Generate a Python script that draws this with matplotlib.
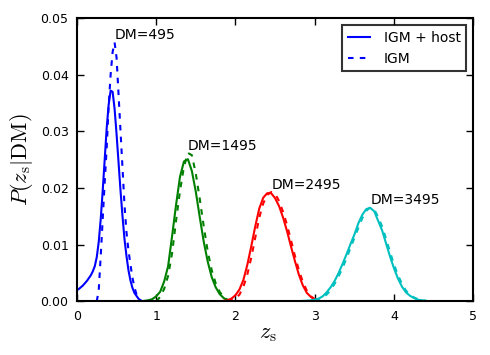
import numpy as np
import matplotlib.pyplot as plt

# P(z_s | DM), solid = IGM + host, dashed = IGM only
dms = [495, 1495, 2495, 3495]
colors = ['#0000ff', '#008000', '#ff0000', '#00bfbf']

z495_host = [0.0, 0.025, 0.05, 0.075, 0.1, 0.125, 0.15, 0.175, 0.2, 0.225, 0.25, 0.275,
             0.3, 0.325, 0.35, 0.375, 0.4, 0.425, 0.45, 0.475, 0.5, 0.525, 0.55, 0.575,
             0.6, 0.625, 0.65, 0.675, 0.7, 0.725, 0.75, 0.775, 0.8, 0.825]
p495_host = [0.0020, 0.0022, 0.0025, 0.0028, 0.0032, 0.0036, 0.0041, 0.0046, 0.0053, 0.0062,
             0.0078, 0.0105, 0.0145, 0.0195, 0.0250, 0.0305, 0.0347, 0.0372, 0.0370, 0.0340,
             0.0295, 0.0245, 0.0195, 0.0150, 0.0110, 0.0080, 0.0055, 0.0037, 0.0024, 0.0015,
             0.0010, 0.0005, 0.0002, 0.0]
z495_igm = [0.25, 0.275, 0.3, 0.325, 0.35, 0.375, 0.4, 0.425, 0.45, 0.475, 0.5, 0.525,
            0.55, 0.575, 0.6, 0.625, 0.65, 0.675, 0.7, 0.725, 0.75, 0.775, 0.8, 0.825]
p495_igm = [0.0, 0.0020, 0.0080, 0.0145, 0.0210, 0.0270, 0.0345, 0.0400, 0.0440, 0.0457,
            0.0430, 0.0365, 0.0300, 0.0235, 0.0170, 0.0122, 0.0090, 0.0065, 0.0042, 0.0025,
            0.0013, 0.0006, 0.0002, 0.0]

z1495_host = [0.8, 0.85, 0.9, 0.95, 1.0, 1.05, 1.1, 1.15, 1.2, 1.25, 1.3, 1.35, 1.4, 1.45,
              1.5, 1.55, 1.6, 1.65, 1.7, 1.75, 1.8, 1.85, 1.9, 1.95]
p1495_host = [0.0, 0.0001, 0.0002, 0.0004, 0.0009, 0.0017, 0.0035, 0.0062, 0.0115, 0.0170,
              0.0220, 0.0247, 0.0251, 0.0230, 0.0193, 0.0148, 0.0105, 0.0070, 0.0043, 0.0025,
              0.0013, 0.0006, 0.0002, 0.0]
z1495_igm = [1.0, 1.05, 1.1, 1.15, 1.2, 1.25, 1.3, 1.35, 1.4, 1.45, 1.5, 1.55, 1.6, 1.65,
             1.7, 1.75, 1.8, 1.85, 1.9, 1.95]
p1495_igm = [0.0, 0.0008, 0.0022, 0.0045, 0.0085, 0.0142, 0.0195, 0.0238, 0.0262, 0.0258,
             0.0225, 0.0180, 0.0132, 0.0088, 0.0055, 0.0032, 0.0017, 0.0008, 0.0003, 0.0]

z2495_host = [1.85, 1.9, 1.95, 2.0, 2.05, 2.1, 2.15, 2.2, 2.25, 2.3, 2.35, 2.4, 2.45, 2.5,
              2.55, 2.6, 2.65, 2.7, 2.75, 2.8, 2.85, 2.9, 2.95, 3.0, 3.05, 3.1]
p2495_host = [0.0001, 0.0002, 0.0005, 0.0011, 0.0021, 0.0038, 0.0065, 0.0098, 0.0133, 0.0164,
              0.0183, 0.0191, 0.0191, 0.0182, 0.0168, 0.0148, 0.0124, 0.0097, 0.0071, 0.0047,
              0.0028, 0.0015, 0.0008, 0.0003, 0.0001, 0.0]
z2495_igm = [1.9, 1.95, 2.0, 2.05, 2.1, 2.15, 2.2, 2.25, 2.3, 2.35, 2.4, 2.45, 2.5, 2.55,
             2.6, 2.65, 2.7, 2.75, 2.8, 2.85, 2.9, 2.95, 3.0, 3.05, 3.1]
p2495_igm = [0.0, 0.0002, 0.0005, 0.0012, 0.0026, 0.0048, 0.0078, 0.0113, 0.0148, 0.0173,
             0.0188, 0.0193, 0.0190, 0.0177, 0.0158, 0.0135, 0.0108, 0.0080, 0.0055, 0.0034,
             0.0019, 0.0009, 0.0004, 0.0001, 0.0]

z3495_host = [2.8, 2.85, 2.9, 2.95, 3.0, 3.05, 3.1, 3.15, 3.2, 3.25, 3.3, 3.35, 3.4, 3.45,
              3.5, 3.55, 3.6, 3.65, 3.7, 3.75, 3.8, 3.85, 3.9, 3.95, 4.0, 4.05, 4.1, 4.15,
              4.2, 4.25, 4.3, 4.35, 4.4, 4.45, 4.5]
p3495_host = [0.0, 0.0001, 0.0001, 0.0002, 0.0003, 0.0005, 0.0009, 0.0016, 0.0025, 0.0036,
              0.0050, 0.0066, 0.0083, 0.0101, 0.0118, 0.0138, 0.0153, 0.0163, 0.0165, 0.0159,
              0.0142, 0.0125, 0.0102, 0.0079, 0.0058, 0.0040, 0.0026, 0.0016, 0.0010, 0.0006,
              0.0003, 0.0002, 0.0001, 0.0, 0.0]
z3495_igm = [2.85, 2.9, 2.95, 3.0, 3.05, 3.1, 3.15, 3.2, 3.25, 3.3, 3.35, 3.4, 3.45, 3.5,
             3.55, 3.6, 3.65, 3.7, 3.75, 3.8, 3.85, 3.9, 3.95, 4.0, 4.05, 4.1, 4.15, 4.2,
             4.25, 4.3, 4.35, 4.4, 4.45, 4.5]
p3495_igm = [0.0, 0.0001, 0.0001, 0.0002, 0.0004, 0.0007, 0.0012, 0.0020, 0.0031, 0.0044,
             0.0059, 0.0076, 0.0094, 0.0112, 0.0130, 0.0147, 0.0160, 0.0166, 0.0162, 0.0149,
             0.0132, 0.0110, 0.0087, 0.0065, 0.0046, 0.0031, 0.0019, 0.0012, 0.0007, 0.0004,
             0.0002, 0.0001, 0.0, 0.0]

host = [(z495_host, p495_host), (z1495_host, p1495_host),
        (z2495_host, p2495_host), (z3495_host, p3495_host)]
igm = [(z495_igm, p495_igm), (z1495_igm, p1495_igm),
       (z2495_igm, p2495_igm), (z3495_igm, p3495_igm)]

plt.rcParams['mathtext.fontset'] = 'cm'
plt.rcParams['font.size'] = 10
plt.rcParams['lines.scale_dashes'] = False

fig = plt.figure(figsize=(4.9, 3.55), dpi=100)
ax = fig.add_axes([0.157, 0.151, 0.809, 0.798])

for i, dm in enumerate(dms):
    zh, ph = host[i]
    zi, pi = igm[i]
    ax.plot(zh, ph, '-', color=colors[i], lw=1.5,
            label='IGM + host' if i == 0 else None)
    ax.plot(zi, pi, '--', color=colors[i], lw=1.5, dashes=(4, 4.5),
            label='IGM' if i == 0 else None)
    k = int(np.argmax(pi))
    ax.text(zi[k], pi[k], 'DM=%d' % dm, ha='left', va='bottom', fontsize=10)

ax.set_xlim(0, 5)
ax.set_ylim(0, 0.05)
ax.set_xticks([0, 1, 2, 3, 4, 5])
ax.set_yticks([0.0, 0.01, 0.02, 0.03, 0.04, 0.05])
ax.tick_params(direction='in', top=True, right=True, length=5, width=1,
               labelsize=9, pad=6)
for s in ax.spines.values():
    s.set_linewidth(1.5)

ax.set_xlabel(r'$z_{\rm s}$', fontsize=16)
ax.xaxis.set_label_coords(0.482, -0.08)
ax.set_ylabel(r'$P(z_{\rm s}|{\rm DM})$', fontsize=16)

leg = ax.legend(loc='upper right', fontsize=10, fancybox=False, handlelength=1.6,
                handletextpad=1.0, borderaxespad=0.5, labelspacing=0.5)
leg.get_frame().set_edgecolor('black')
leg.get_frame().set_linewidth(1.5)

fig.savefig('out.png', dpi=100, facecolor='white')
